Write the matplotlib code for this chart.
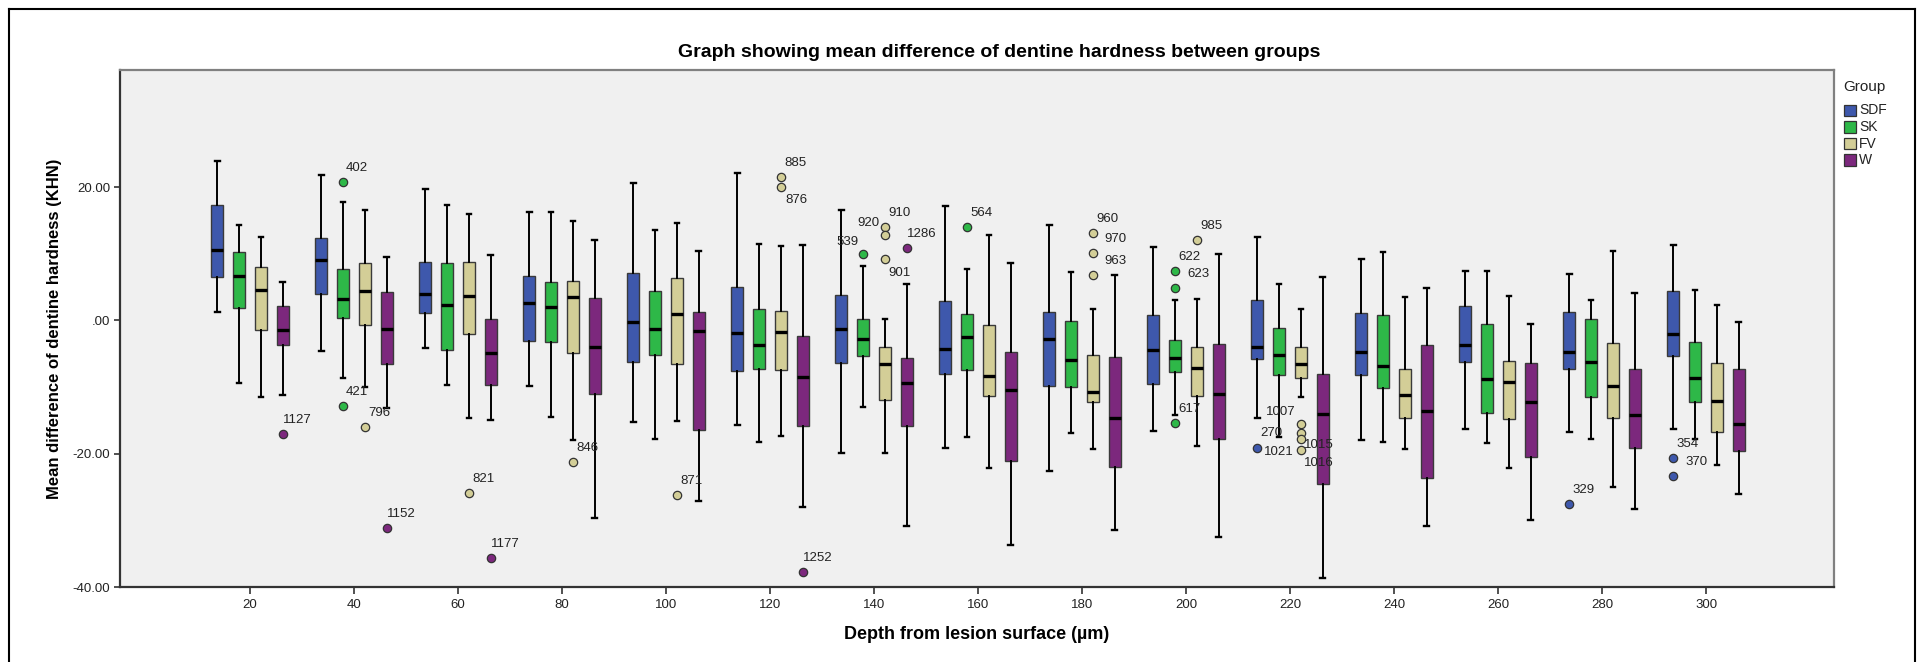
import matplotlib
matplotlib.use("Agg")
import matplotlib.pyplot as plt
from matplotlib.lines import Line2D
from matplotlib.patches import Rectangle

plt.rcParams['font.family'] = ['Liberation Sans', 'DejaVu Sans']

# ---------------- data ----------------
depths = [20, 40, 60, 80, 100, 120, 140, 160, 180, 200, 220, 240, 260, 280, 300]
groups = ['SDF', 'SK', 'FV', 'W']
colors = ['#3E58AC', '#2EB848', '#D3CE97', '#7C287D']

SDF_hi  = [23.9, 21.85, 19.7, 16.25, 20.55, 22.05, 16.55, 17.15, 14.35, 11.05, 12.45, 9.15, 7.35, 6.9, 11.25]
SDF_q3  = [17.3, 12.4, 8.75, 6.6, 7.1, 5.0, 3.75, 2.9, 1.2, 0.85, 3.0, 1.05, 2.1, 1.3, 4.4]
SDF_med = [10.6, 9.0, 3.95, 2.55, -0.25, -1.85, -1.35, -4.35, -2.8, -4.4, -3.95, -4.8, -3.65, -4.8, -2.0]
SDF_q1  = [6.45, 4.0, 1.1, -3.15, -6.3, -7.55, -6.35, -8.05, -9.8, -9.6, -5.85, -8.15, -6.2, -7.35, -5.3]
SDF_lo  = [1.2, -4.65, -4.2, -9.85, -15.25, -15.75, -19.85, -19.15, -22.6, -16.55, -14.7, -18.0, -16.25, -16.8, -16.35]

SK_hi  = [14.25, 17.75, 17.3, 16.2, 13.5, 11.5, 8.15, 7.7, 7.25, 3.0, 5.5, 10.3, 7.4, 3.0, 4.5]
SK_q3  = [10.2, 7.75, 8.6, 5.8, 4.45, 1.75, 0.15, 0.9, -0.05, -2.95, -1.15, 0.75, -0.5, 0.2, -3.2]
SK_med = [6.7, 3.15, 2.35, 2.05, -1.35, -3.7, -2.85, -2.55, -5.95, -5.6, -5.25, -6.85, -8.75, -6.25, -8.7]
SK_q1  = [1.8, 0.3, -4.4, -3.3, -5.15, -7.35, -5.3, -7.5, -10.05, -7.7, -8.15, -10.1, -13.85, -11.55, -12.25]
SK_lo  = [-9.35, -8.6, -9.75, -14.45, -17.85, -18.25, -13.05, -17.45, -16.85, -14.25, -17.45, -18.2, -18.35, -17.85, -17.8]

FV_hi  = [12.5, 16.6, 15.9, 14.85, 14.6, 11.1, 0.15, 12.75, 1.65, 3.2, 1.7, 3.5, 3.65, 10.4, 2.25]
FV_q3  = [8.0, 8.6, 8.7, 5.85, 6.4, 1.45, -4.0, -0.75, -5.2, -4.05, -3.95, -7.3, -6.05, -3.4, -6.45]
FV_med = [4.55, 4.45, 3.6, 3.5, 1.0, -1.7, -6.55, -8.3, -10.75, -7.15, -6.55, -11.25, -9.2, -9.85, -12.15]
FV_q1  = [-1.5, -0.75, -2.05, -4.9, -6.55, -7.4, -11.9, -11.4, -12.3, -11.4, -8.6, -14.6, -14.8, -14.65, -16.75]
FV_lo  = [-11.45, -9.95, -14.65, -17.95, -15.1, -17.35, -19.9, -22.2, -19.3, -18.85, -11.5, -19.35, -22.1, -24.95, -21.7]

W_hi  = [5.75, 9.45, 9.8, 12.1, 10.4, 11.25, 5.5, 8.65, 6.8, 9.9, 6.5, 4.9, -0.6, 4.1, -0.25]
W_q3  = [2.1, 4.3, 0.15, 3.3, 1.25, -2.4, -5.65, -4.75, -5.5, -3.55, -8.0, -3.65, -6.35, -7.3, -7.3]
W_med = [-1.45, -1.35, -4.85, -3.95, -1.6, -8.55, -9.35, -10.5, -14.7, -11.1, -14.05, -13.65, -12.25, -14.2, -15.5]
W_q1  = [-3.65, -6.6, -9.7, -11.05, -16.5, -15.8, -15.8, -21.1, -21.95, -17.8, -24.5, -23.6, -20.45, -19.1, -19.55]
W_lo  = [-11.2, -13.2, -14.95, -29.6, -27.05, -28.05, -30.85, -33.75, -31.45, -32.5, -38.65, -30.8, -30.0, -28.25, -26.1]

# outliers: (depth, group, value, case label)
outliers = [
    (20, 'W', -17.1, '1127'),
    (40, 'SK', 20.8, '402'), (40, 'SK', -12.8, '421'), (40, 'FV', -16.0, '796'), (40, 'W', -31.2, '1152'),
    (60, 'FV', -25.85, '821'), (60, 'W', -35.6, '1177'),
    (80, 'FV', -21.25, '846'),
    (100, 'FV', -26.15, '871'),
    (120, 'FV', 21.55, '885'), (120, 'FV', 20.05, '876'), (120, 'W', -37.75, '1252'),
    (140, 'SK', 9.9, '539'), (140, 'FV', 14.05, '910'), (140, 'FV', 12.85, '920'), (140, 'FV', 9.2, '901'),
    (140, 'W', 10.9, '1286'),
    (160, 'SK', 13.95, '564'),
    (180, 'FV', 13.1, '960'), (180, 'FV', 10.15, '970'), (180, 'FV', 6.85, '963'),
    (200, 'SK', 7.45, '622'), (200, 'SK', 4.85, '623'), (200, 'SK', -15.45, '617'), (200, 'FV', 12.1, '985'),
    (220, 'SDF', -19.15, '270'), (220, 'FV', -15.6, '1007'), (220, 'FV', -16.95, '1015'),
    (220, 'FV', -17.75, '1016'), (220, 'FV', -19.5, '1021'),
    (280, 'SDF', -27.5, '329'),
    (300, 'SDF', -20.65, '354'), (300, 'SDF', -23.3, '370'),
]

stats_by_group = {
    'SDF': (SDF_hi, SDF_q3, SDF_med, SDF_q1, SDF_lo),
    'SK': (SK_hi, SK_q3, SK_med, SK_q1, SK_lo),
    'FV': (FV_hi, FV_q3, FV_med, FV_q1, FV_lo),
    'W': (W_hi, W_q3, W_med, W_q1, W_lo),
}

# label placement (pixels offset from point, horizontal alignment)
default_off = (3, 14, 'left')
label_off = {
    '1127': (0, 14, 'left'), '1152': (0, 14, 'left'), '1177': (0, 14, 'left'),
    '1252': (0, 14, 'left'), '1286': (0, 14, 'left'),
    '539': (-5, 12, 'right'), '920': (-5, 12, 'right'),
    '876': (4, -13, 'left'), '901': (3, -14, 'left'),
    '970': (11, 14, 'left'), '963': (11, 14, 'left'), '623': (12, 14, 'left'), '370': (12, 14, 'left'),
    '1007': (-5, 12, 'right'), '1015': (3, -12, 'left'), '1016': (3, -24, 'left'),
    '1021': (-7, -2, 'right'), '270': (3, 15, 'left'),
}

# ---------------- figure ----------------
W, H = 1917, 662
fig = plt.figure(figsize=(W / 100, H / 100), dpi=100)
fig.patch.set_facecolor('white')

def fx(px):
    return px / W

def fy(py):
    return 1 - py / H

ax_l, ax_r, ax_t, ax_b = 120, 1834, 69.7, 587
ax = fig.add_axes([fx(ax_l), fy(ax_b), (ax_r - ax_l) / W, (ax_b - ax_t) / H])
ax.set_facecolor('#F0F0F0')

offsets = [-0.315, -0.105, 0.105, 0.315]
box_w = 0.115

for gi, g in enumerate(groups):
    hi, q3, med, q1, lo = stats_by_group[g]
    stats = []
    for i, d in enumerate(depths):
        fl = [v for (dd, gg, v, lab) in outliers if dd == d and gg == g]
        stats.append(dict(med=med[i], q1=q1[i], q3=q3[i], whislo=lo[i], whishi=hi[i], fliers=fl))
    pos = [i + offsets[gi] for i in range(len(depths))]
    ax.bxp(stats, positions=pos, widths=box_w, patch_artist=True, showfliers=True,
           capwidths=0.045, manage_ticks=False,
           boxprops=dict(facecolor=colors[gi], edgecolor='#3a3a3a', linewidth=1.0),
           medianprops=dict(color='black', linewidth=2.4, solid_capstyle='butt'),
           whiskerprops=dict(color='black', linewidth=1.4),
           capprops=dict(color='black', linewidth=1.7),
           flierprops=dict(marker='o', markerfacecolor=colors[gi], markeredgecolor='#333333',
                           markeredgewidth=0.9, markersize=6.0, linestyle='none'))

for (d, g, v, lab) in outliers:
    x = depths.index(d) + offsets[groups.index(g)]
    dx, dy, ha = label_off.get(lab, default_off)
    ax.annotate(lab, (x, v), xytext=(dx, dy), textcoords='offset pixels',
                ha=ha, va='center', fontsize=9.5, color='#222222')

ax.set_xlim(-1.25, len(depths) - 1 + 1.23)
ax.set_ylim(-40, 37.6)
ax.set_xticks(range(len(depths)))
ax.set_xticklabels([str(d) for d in depths])
yt = [-40, -20, 0, 20]
ax.set_yticks(yt)
ax.set_yticklabels(['.00' if v == 0 else f'{v:.2f}' for v in yt])
ax.tick_params(axis='x', direction='out', length=5, width=1.2, pad=4, labelsize=9.5,
               labelcolor='#222222', color='#333333')
ax.tick_params(axis='y', direction='out', length=4, width=1.2, pad=3, labelsize=9.5,
               labelcolor='#222222', color='#333333')

for side in ['left', 'bottom']:
    ax.spines[side].set_color('#333333')
    ax.spines[side].set_linewidth(1.6)
for side in ['top', 'right']:
    ax.spines[side].set_color('#808080')
    ax.spines[side].set_linewidth(1.6)

ax.set_xlabel('Depth from lesion surface (µm)', fontsize=13, fontweight='bold', labelpad=0)
ax.xaxis.set_label_coords(0.5, (ax_b - 626) / (ax_b - ax_t))
ax.set_ylabel('Mean difference of dentine hardness (KHN)', fontsize=12, fontweight='bold')
ax.yaxis.set_label_coords((62 - ax_l) / (ax_r - ax_l), 0.5)

fig.text(fx(999), fy(52.6), 'Graph showing mean difference of dentine hardness between groups',
         ha='center', va='center', fontsize=14, fontweight='bold')

# legend
fig.text(fx(1843), fy(87), 'Group', ha='left', va='center', fontsize=11, color='#222222')
rows = [110.5, 127, 143.5, 160]
for gi, g in enumerate(groups):
    fig.add_artist(Rectangle((fx(1844), fy(rows[gi] + 5.5)), 12 / W, 11 / H,
                             transform=fig.transFigure, facecolor=colors[gi],
                             edgecolor='#333333', linewidth=0.9))
    fig.text(fx(1859), fy(rows[gi]), g, ha='left', va='center', fontsize=10, color='#222222')

# outer frame (open at the bottom)
lw = 1.5
fig.add_artist(Line2D([fx(9), fx(9)], [0, fy(9)], transform=fig.transFigure, color='black', linewidth=lw))
fig.add_artist(Line2D([fx(9), fx(1915)], [fy(9), fy(9)], transform=fig.transFigure, color='black', linewidth=lw))
fig.add_artist(Line2D([fx(1915), fx(1915)], [0, fy(9)], transform=fig.transFigure, color='black', linewidth=lw))

fig.savefig('out.png', dpi=100)
